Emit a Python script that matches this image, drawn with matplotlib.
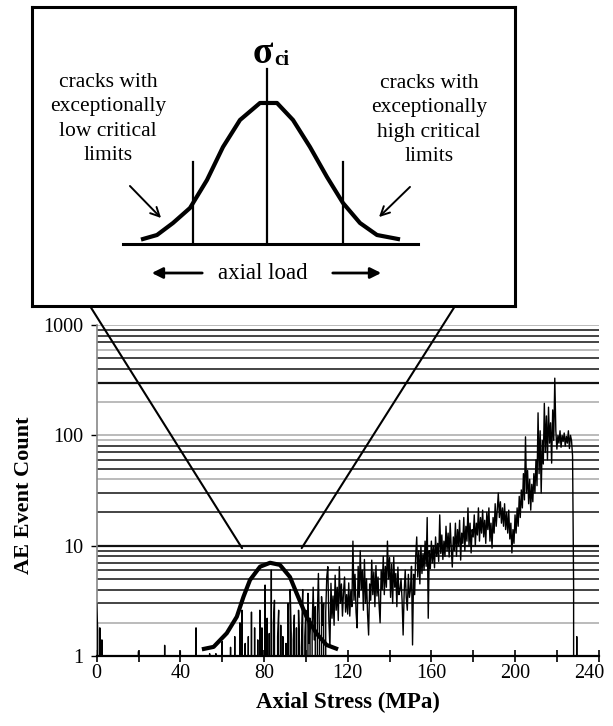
import numpy as np
import matplotlib
matplotlib.use("Agg")
import matplotlib.pyplot as plt
from matplotlib.patches import ConnectionPatch
from matplotlib.transforms import ScaledTranslation

plt.rcParams['font.family'] = ['Liberation Serif', 'DejaVu Serif']

# AE event counts every 0.5 MPa (0 = no events)
counts_0_30 = [3.0, 1.7, 0, 1.8, 0, 1.4, 0, 0, 0, 0,
               0, 0, 0, 0, 0, 0, 0, 0, 0, 0,
               0, 0, 0, 0, 0, 0, 0, 0, 0, 0,
               0, 0, 0, 0, 0, 0, 0, 0, 0, 0,
               1.1, 0, 0, 0, 0, 0, 0, 0, 0, 0,
               0, 0, 0, 0, 0, 0, 0, 0, 0, 0]
counts_30_60 = [0, 0, 0, 0, 0, 1.25, 0, 0, 0, 0,
                0, 0, 0, 0, 0, 0, 0, 0, 0, 0,
                1.1, 0, 0, 0, 0, 0, 0, 0, 0, 0,
                0, 0, 0, 0, 0, 1.8, 0, 0, 0, 0,
                0, 0, 0, 0, 0, 0, 0, 0, 1.05, 0,
                0, 0, 0, 0, 1.05, 0, 0, 0, 0, 0]
counts_60_90 = [1.35, 0, 0, 0, 0, 0, 0, 0, 1.2, 0,
                0, 0, 1.5, 0, 0, 0, 0, 2.0, 0, 2.6,
                0, 0, 1.3, 0, 0, 1.5, 0, 0, 2.5, 0,
                0, 1.8, 0, 0, 1.4, 0, 2.6, 0, 1.8, 0,
                0, 4.4, 0, 2.2, 0, 1.6, 0, 6.0, 0, 2.0,
                3.2, 0, 0, 1.5, 2.6, 0, 1.9, 0, 1.5, 0]
counts_90_120 = [0, 1.3, 0, 3.0, 0, 4.0, 1.6, 0, 1.4, 2.35,
                 0, 1.8, 0, 2.6, 1.2, 0, 1.7, 4.0, 0, 1.5,
                 2.6, 0, 3.7, 1.3, 2.2, 0, 1.8, 4.2, 1.4, 2.8,
                 0, 2.4, 5.6, 1.5, 0, 3.45, 1.9, 3.0, 0, 2.5,
                 5.2, 6.45, 2.1, 1.2, 4.56, 2.2, 3.5, 1.9, 5.4, 2.6,
                 4.2, 2.1, 6.45, 3.0, 4.5, 2.3, 3.8, 5.2, 2.5, 3.6]
counts_120_150 = [2.4, 4.6, 2.3, 3.9, 2.8, 11.0, 3.2, 5.5, 2.5, 1.8,
                  6.5, 3.4, 9.0, 4.0, 6.0, 2.6, 7.5, 3.0, 5.0, 2.4,
                  1.55, 4.5, 3.2, 7.4, 3.6, 5.8, 2.8, 6.6, 3.5, 5.2,
                  2.9, 2.0, 6.0, 4.0, 8.0, 3.6, 6.5, 4.2, 11.0, 5.0,
                  7.8, 3.4, 6.8, 3.0, 7.9, 4.2, 5.6, 2.8, 6.4, 3.6,
                  4.0, 5.0, 3.2, 1.55, 3.8, 6.0, 3.4, 2.6, 5.5, 3.4]
counts_150_180 = [4.0, 6.5, 1.26, 5.5, 3.6, 8.0, 12.0, 5.2, 9.0, 4.5,
                  10.0, 5.6, 8.5, 6.0, 11.0, 6.5, 18.0, 2.2, 9.0, 6.2,
                  11.0, 7.0, 10.0, 6.3, 12.0, 8.0, 10.5, 7.2, 19.0, 8.5,
                  12.5, 7.5, 11.0, 8.0, 15.0, 9.0, 13.0, 7.9, 16.0, 9.5,
                  6.4, 12.0, 9.0, 16.0, 8.0, 14.0, 10.0, 17.0, 7.4, 13.0,
                  10.5, 18.0, 9.0, 15.0, 11.0, 22.0, 10.0, 16.0, 8.6, 14.0]
counts_180_210 = [12, 19, 10, 16, 12.5, 22, 11, 18, 13, 21,
                  12, 17, 10.5, 20, 14, 22, 11, 16, 9.5, 18,
                  13, 24, 15, 21, 30, 18, 25, 16, 22, 15,
                  24, 14, 20, 13, 21, 11.5, 16, 8.6, 14, 10.5,
                  19, 13, 22, 15, 28, 18, 32, 22, 45, 26,
                  97, 30, 48, 24, 40, 21, 36, 25, 45, 30]
counts_210_240 = [60, 35, 160, 45, 110, 30, 90, 55, 195, 70,
                  150, 60, 180, 85, 130, 56, 170, 90, 330, 110,
                  75, 100, 85, 110, 78, 100, 88, 105, 80, 98,
                  85, 110, 76, 100, 90, 65, 4.2, 0, 0, 1.5,
                  0, 0, 0, 0, 0, 0, 0, 0, 0, 0,
                  0, 0, 0, 0, 0, 0, 0, 0, 0, 0]

# schematic critical-stress distribution drawn on the main plot
bell_stress = [50.3, 55.9, 62.2, 67.0, 70.2, 73.3, 78.1, 82.9, 87.6,
               92.4, 95.6, 100.3, 105.1, 109.9, 115.4]
bell_count = [1.15, 1.21, 1.61, 2.27, 3.45, 4.89, 6.45, 7.0, 6.7,
              5.2, 3.7, 2.27, 1.6, 1.26, 1.15]

# inset bell curve (schematic units, centre = sigma_ci)
inset_load = [-124, -110, -94, -77, -60, -44, -27, -7, 10, 26,
              43, 60, 76, 93, 110, 131]
inset_freq = [5, 9, 21, 36, 64, 97, 124, 141, 141, 124,
              97, 67, 41, 21, 9, 5]

x_ticks = [0, 20, 40, 60, 80, 100, 120, 140, 160, 180, 200, 220, 240]
x_labels = ['0', '', '40', '', '80', '', '120', '', '160', '', '200', '', '240']
y_ticks = [1, 10, 100, 1000]
y_labels = ['1', '10', '100', '1000']

counts = np.array(counts_0_30 + counts_30_60 + counts_60_90 + counts_90_120 +
                  counts_120_150 + counts_150_180 + counts_180_210 + counts_210_240)
stress = np.arange(len(counts)) * 0.5

fig = plt.figure(figsize=(6.13, 7.26), dpi=100)
ax = fig.add_axes([0.1577, 0.0964, 0.819, 0.4559])
ax.set_yscale('log')
ax.set_xlim(0, 240)
ax.set_ylim(1, 1000)

# horizontal grid on every log step
gray_levels = [100, 200, 600, 1000, 2, 40, 90]
for dec in [1, 10, 100]:
    for m in range(1, 10):
        lev = dec * (m + 1)
        c = '#a8a8a8' if lev in gray_levels else '#111111'
        w = 1.6 if lev in (10, 300) else 1.1
        ax.axhline(lev, color=c, lw=w, zorder=1)

ax.plot(stress, counts, color='black', lw=1.0, zorder=3)
ax.plot(bell_stress, bell_count, color='black', lw=3.0, zorder=4,
        solid_capstyle='butt')

ax.spines['top'].set_visible(False)
ax.spines['right'].set_visible(False)
ax.spines['left'].set_color('#888888')
ax.spines['left'].set_linewidth(1.2)
ax.spines['bottom'].set_linewidth(1.6)
ax.spines['bottom'].set_zorder(5)

ax.set_xticks(x_ticks)
ax.set_xticklabels(x_labels, fontsize=14.5)
ax.set_yticks(y_ticks)
ax.set_yticklabels(y_labels, fontsize=14.5)
ax.yaxis.set_minor_locator(matplotlib.ticker.NullLocator())
ax.tick_params(axis='x', direction='inout', length=8, width=1.2, pad=2)
ax.tick_params(axis='y', direction='out', length=4.3, width=1.0, pad=5)
# last label sits a little left of its tick, as in the original
last = ax.get_xticklabels()[-1]
last.set_transform(last.get_transform() +
                   ScaledTranslation(-0.09, 0, fig.dpi_scale_trans))

ax.set_xlabel('Axial Stress (MPa)', fontsize=16.5, fontweight='bold')
ax.set_ylabel('AE Event Count', fontsize=16, fontweight='bold')
ax.xaxis.set_label_coords(0.5, -0.108)
ax.yaxis.set_label_coords(-0.125, 0.485)

# inset box
ins = fig.add_axes([0.0522, 0.5785, 0.7879, 0.4119])
ins.set_xlim(-235, 248)
ins.set_ylim(-62, 237)
ins.set_xticks([])
ins.set_yticks([])
for s in ins.spines.values():
    s.set_linewidth(2.2)
ins.plot([-144, 151], [0, 0], color='black', lw=2.2)
ins.plot([0, 0], [0, 175], color='black', lw=1.6)
ins.plot([-74, -74], [0, 82], color='black', lw=1.6)
ins.plot([76, 76], [0, 82], color='black', lw=1.6)
ins.plot(inset_load, inset_freq, color='black', lw=3.0)

ins.text(6, 181, 'σ', fontsize=27, fontweight='bold', ha='right', va='baseline')
ins.text(7, 179, 'ci', fontsize=15, fontweight='bold', ha='left', va='baseline')
ins.text(-159, 125, 'cracks with\nexceptionally\nlow critical\nlimits',
         fontsize=15.5, ha='center', va='center', linespacing=1.38)
ins.text(162, 124, 'cracks with\nexceptionally\nhigh critical\nlimits',
         fontsize=15.5, ha='center', va='center', linespacing=1.38)
ins.text(-4, -29, 'axial load', fontsize=16.5, ha='center', va='center')

ins.annotate('', xy=(-104, 24), xytext=(-139, 60),
             arrowprops=dict(arrowstyle='->', lw=1.4, color='black', mutation_scale=16))
ins.annotate('', xy=(110, 25), xytext=(145, 59),
             arrowprops=dict(arrowstyle='->', lw=1.4, color='black', mutation_scale=16))
ins.annotate('', xy=(-118, -29), xytext=(-62, -29),
             arrowprops=dict(arrowstyle='-|>', lw=2.0, color='black', mutation_scale=16))
ins.annotate('', xy=(117, -29), xytext=(63, -29),
             arrowprops=dict(arrowstyle='-|>', lw=2.0, color='black', mutation_scale=16))

# zoom lines from the box down to the bell
for fx, sx in [(0.1468, 69.5), (0.7423, 98.0)]:
    con = ConnectionPatch(xyA=(fx, 0.5785), coordsA='figure fraction',
                          xyB=(sx, 9.5), coordsB=ax.transData,
                          color='black', lw=1.5)
    fig.add_artist(con)

fig.savefig('out.png', dpi=100)
